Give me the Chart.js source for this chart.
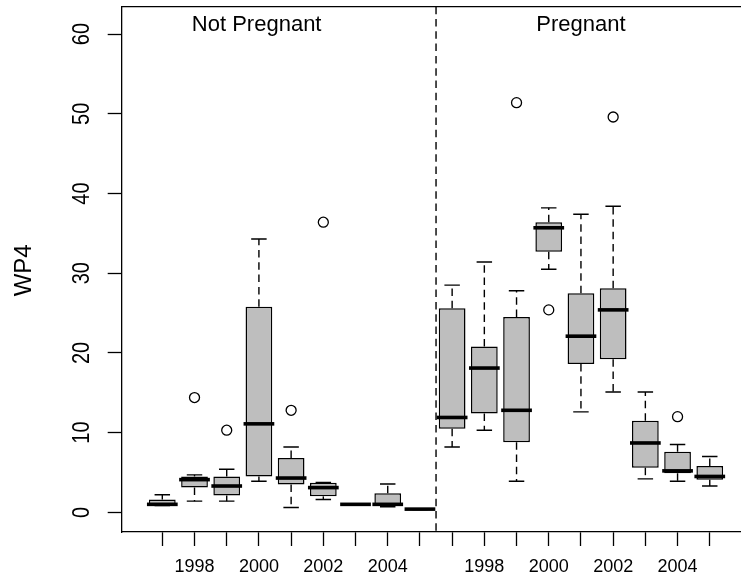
<!DOCTYPE html>
<html>
<head>
<meta charset="utf-8">
<script src="https://cdn.jsdelivr.net/npm/chart.js@4/dist/chart.umd.min.js"></script>
<style>
  html, body { margin: 0; padding: 0; background: #fff; overflow: hidden; }
  #wrap { width: 741px; height: 582px; position: relative; }
</style>
</head>
<body>
<div id="wrap"><canvas id="c" width="741" height="582"></canvas></div>
<script>
// ---- data ----
const groups = ['Not Pregnant', 'Pregnant'];
const years = [1997, 1998, 1999, 2000, 2001, 2002, 2003, 2004, 2005];
const positions = [1, 2, 3, 4, 5, 6, 7, 8, 9, 10, 11, 12, 13, 14, 15, 16, 17, 18];
const xTickLabels = ['', '1998', '', '2000', '', '2002', '', '2004', '',
                     '', '1998', '', '2000', '', '2002', '', '2004', ''];
const yTickValues = [0, 10, 20, 30, 40, 50, 60];

const whiskerLow  = [0.85, 1.4, 1.4, 3.9, 0.6, 1.6, 0.95, 0.7, 0.36, 8.2, 10.3, 3.9, 30.5, 12.6, 15.1, 4.2, 3.9, 3.3];
const q1          = [0.88, 3.1, 2.1, 4.5, 3.5, 2.0, 0.97, 0.8, 0.38, 10.5, 12.4, 8.8, 32.7, 18.6, 19.2, 5.6, 4.9, 4.1];
const median      = [1.0, 4.1, 3.3, 11.1, 4.3, 3.1, 1.0, 1.0, 0.40, 11.9, 18.1, 12.8, 35.7, 22.1, 25.4, 8.7, 5.2, 4.5];
const q3          = [1.6, 4.5, 4.5, 25.8, 6.8, 3.7, 1.03, 2.4, 0.42, 25.6, 20.8, 24.5, 36.4, 27.5, 28.1, 11.5, 7.6, 5.8];
const whiskerHigh = [2.2, 4.7, 5.4, 34.3, 8.2, 3.75, 1.05, 3.55, 0.44, 28.5, 31.4, 27.8, 38.2, 37.4, 38.4, 15.1, 8.5, 7.0];

const outlierPos = [2, 3, 5, 6, 12, 13, 15, 17];
const outlierVal = [14.4, 10.3, 12.8, 36.4, 51.4, 25.4, 49.6, 12.0];

const yTitle = 'WP4';

// ---- plugin drawing whiskers, medians, text, borders via the chart scales ----
const FONT = '"Liberation Sans", Arial, sans-serif';
const DASH = [7.5, 4.8];
const boxExtras = {
  id: 'boxExtras',
  beforeDatasetsDraw(chart) {
    const { ctx, scales: { x, y } } = chart;
    const unit = x.getPixelForValue(1) - x.getPixelForValue(0);
    const capHalf = unit * 0.24;
    ctx.save();
    ctx.strokeStyle = '#000';
    ctx.lineWidth = 1.4;
    positions.forEach((p, i) => {
      const cx = x.getPixelForValue(p);
      ctx.setLineDash(DASH);
      ctx.beginPath();
      ctx.moveTo(cx, y.getPixelForValue(q3[i]));
      ctx.lineTo(cx, y.getPixelForValue(whiskerHigh[i]));
      ctx.stroke();
      ctx.beginPath();
      ctx.moveTo(cx, y.getPixelForValue(q1[i]));
      ctx.lineTo(cx, y.getPixelForValue(whiskerLow[i]));
      ctx.stroke();
      ctx.setLineDash([]);
      ctx.beginPath();
      const yh = y.getPixelForValue(whiskerHigh[i]);
      const yl = y.getPixelForValue(whiskerLow[i]);
      ctx.moveTo(cx - capHalf, yh); ctx.lineTo(cx + capHalf, yh);
      ctx.moveTo(cx - capHalf, yl); ctx.lineTo(cx + capHalf, yl);
      ctx.stroke();
    });
    ctx.restore();
  },
  afterDatasetsDraw(chart) {
    const { ctx, chartArea, scales: { x, y } } = chart;
    const unit = x.getPixelForValue(1) - x.getPixelForValue(0);
    const half = unit * 0.83 / 2 + 2;
    ctx.save();
    ctx.strokeStyle = '#000';
    ctx.lineWidth = 3.6;
    ctx.lineCap = 'butt';
    positions.forEach((p, i) => {
      const cx = x.getPixelForValue(p);
      const ym = y.getPixelForValue(median[i]);
      ctx.beginPath();
      ctx.moveTo(cx - half, ym);
      ctx.lineTo(cx + half, ym);
      ctx.stroke();
    });
    const sx = x.getPixelForValue(9.5);
    ctx.lineWidth = 1.4;
    ctx.setLineDash(DASH);
    ctx.beginPath();
    ctx.moveTo(sx, chartArea.top);
    ctx.lineTo(sx, chartArea.bottom);
    ctx.stroke();
    ctx.restore();
  },
  afterDraw(chart) {
    const { ctx, chartArea, scales: { x, y } } = chart;
    ctx.save();
    ctx.strokeStyle = '#000';
    ctx.lineWidth = 1.3;
    ctx.beginPath();
    ctx.moveTo(chartArea.left, chartArea.top);
    ctx.lineTo(chart.width, chartArea.top);
    ctx.stroke();

    ctx.fillStyle = '#000';
    y.ticks.forEach(t => {
      const py = y.getPixelForValue(t.value);
      ctx.save();
      ctx.translate(chartArea.left - 41, py);
      ctx.rotate(-Math.PI / 2);
      ctx.scale(1, 1.2);
      ctx.font = '20px ' + FONT;
      ctx.textAlign = 'center';
      ctx.textBaseline = 'middle';
      ctx.fillText(String(t.value), 0, 1);
      ctx.restore();
    });
    ctx.save();
    ctx.translate(23, (chartArea.top + chartArea.bottom) / 2 + 1);
    ctx.rotate(-Math.PI / 2);
    ctx.font = '24px ' + FONT;
    ctx.textAlign = 'center';
    ctx.textBaseline = 'middle';
    ctx.fillText(yTitle, 0, 1);
    ctx.restore();
    ctx.font = '22px ' + FONT;
    ctx.textAlign = 'center';
    ctx.textBaseline = 'middle';
    const titleY = y.getPixelForValue(61.2);
    ctx.fillText(groups[0], x.getPixelForValue(3.93), titleY);
    ctx.fillText(groups[1], x.getPixelForValue(14.0), titleY);
    ctx.restore();
  }
};

const ctx = document.getElementById('c').getContext('2d');
const chart = new Chart(ctx, {
  type: 'bar',
  data: {
    datasets: [
      {
        type: 'bar',
        label: 'box',
        data: positions.map((p, i) => ({ x: p, y: [q1[i], q3[i]] })),
        backgroundColor: '#BEBEBE',
        borderColor: '#000',
        borderWidth: 1.5,
        borderSkipped: false,
        barPercentage: 0.83,
        categoryPercentage: 1.0,
        order: 2
      },
      {
        type: 'scatter',
        label: 'outliers',
        data: outlierPos.map((p, i) => ({ x: p, y: outlierVal[i] })),
        pointStyle: 'circle',
        pointRadius: 5,
        pointBackgroundColor: '#fff',
        pointBorderColor: '#000',
        pointBorderWidth: 1.3,
        showLine: false,
        order: 1
      }
    ]
  },
  options: {
    responsive: false,
    animation: false,
    devicePixelRatio: 1,
    layout: { autoPadding: false, padding: { left: 107.7, top: 6.7, right: 0, bottom: 3.9 } },
    plugins: { legend: { display: false }, tooltip: { enabled: false } },
    scales: {
      x: {
        type: 'linear',
        min: -0.261,
        max: 18.97,
        offset: false,
        afterBuildTicks: s => { s.ticks = positions.map(v => ({ value: v })); },
        afterFit: s => { s.height = 46.1; },
        ticks: {
          autoSkip: false,
          maxRotation: 0,
          minRotation: 0,
          padding: 10.5,
          color: '#000',
          font: { family: FONT, size: 18 },
          callback: (v, i) => xTickLabels[i]
        },
        grid: {
          display: true,
          offset: false,
          drawOnChartArea: false,
          drawTicks: true,
          tickLength: 14,
          tickWidth: 1.3,
          tickColor: '#000'
        },
        border: { display: true, color: '#000', width: 1.3 }
      },
      y: {
        type: 'linear',
        min: -2.47,
        max: 63.44,
        afterBuildTicks: s => { s.ticks = yTickValues.map(v => ({ value: v })); },
        afterFit: s => { s.width = 14; },
        ticks: { display: false },
        grid: {
          display: true,
          drawOnChartArea: false,
          drawTicks: true,
          tickLength: 14,
          tickWidth: 1.3,
          tickColor: '#000'
        },
        border: { display: true, color: '#000', width: 1.3 },
        title: { display: false }
      }
    }
  },
  plugins: [boxExtras]
});
</script>
</body>
</html>
